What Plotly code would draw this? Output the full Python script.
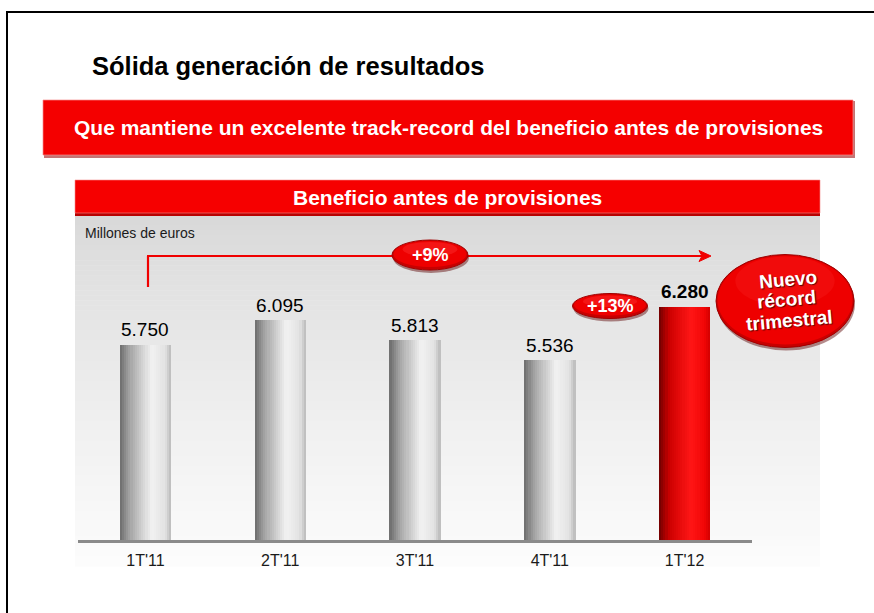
import plotly.graph_objects as go

# ---------------- data ----------------
categories = ["1T'11", "2T'11", "3T'11", "4T'11", "1T'12"]
values = [5750, 6095, 5813, 5536, 6280]
highlight = [False, False, False, False, True]

title_text = "Sólida generación de resultados"
banner_text = "Que mantiene un excelente track-record del beneficio antes de provisiones"
panel_title = "Beneficio antes de provisiones"
unit_text = "Millones de euros"
record_lines = ["Nuevo", "récord", "trimestral"]

# growth figures derived from the data
g_year = round((values[-1] / values[0] - 1) * 100)
g_quarter = round((values[-1] / values[-2] - 1) * 100)

FONT = "Liberation Sans, Arial, sans-serif"
W, H = 874, 613
L, R, T, B = 78, 122, 220, 73
PW, PH = W - L - R, H - T - B


def X(px):
    return (px - L) / PW


def Y(py):
    return (H - B - py) / PH


def fmt(v):
    return f"{v:,}".replace(",", ".")


def lerp_stops(stops, t):
    for (t0, c0), (t1, c1) in zip(stops, stops[1:]):
        if t0 <= t <= t1:
            f = (t - t0) / (t1 - t0) if t1 > t0 else 0
            return tuple(int(round(a + (b - a) * f)) for a, b in zip(c0, c1))
    return stops[-1][1]


grey_stops = [(0, (108, 108, 108)), (0.2, (165, 165, 165)), (0.62, (242, 242, 242)),
              (0.88, (226, 226, 226)), (1, (185, 185, 185))]
red_stops = [(0, (110, 0, 0)), (0.2, (205, 0, 0)), (0.62, (255, 22, 22)),
             (0.88, (242, 6, 6)), (1, (210, 0, 0))]

fig = go.Figure()

# cylinder-shaded bars made of overlaid vertical strips
bar_w = 0.38
N = 24
sw = bar_w / N
for i in range(N):
    t = (i + 0.5) / N
    g = lerp_stops(grey_stops, t)
    r = lerp_stops(red_stops, t)
    cols = [f"rgb{r}" if h else f"rgb{g}" for h in highlight]
    fig.add_trace(go.Bar(
        x=categories, y=values, width=sw * 1.08, offset=-bar_w / 2 + i * sw,
        marker=dict(color=cols, line=dict(width=0)),
        hoverinfo="skip", showlegend=False,
    ))

shapes = []
annotations = []

# outer frame
shapes.append(dict(type="rect", xref="paper", yref="paper", x0=X(7), x1=X(900), y0=Y(12), y1=Y(640),
                   line=dict(color="black", width=2), fillcolor="rgba(0,0,0,0)", layer="below"))

# red banner with shadow
shapes.append(dict(type="rect", xref="paper", yref="paper", x0=X(44), x1=X(855), y0=Y(101), y1=Y(158),
                   line=dict(width=0), fillcolor="rgba(150,0,0,0.55)", layer="below"))
shapes.append(dict(type="rect", xref="paper", yref="paper", x0=X(43), x1=X(853), y0=Y(100), y1=Y(155),
                   line=dict(color="rgba(245,140,140,0.7)", width=1), fillcolor="#f40000", layer="below"))

# grey gradient panel
top, bot = 215, 566
nb = 70
c0, c1 = 216, 252
for k in range(nb):
    y0 = top + (bot - top) * k / nb
    y1 = top + (bot - top) * (k + 1) / nb + 0.6
    f = k / (nb - 1)
    c = int(round(c0 + (c1 - c0) * f ** 0.8))
    shapes.append(dict(type="rect", xref="paper", yref="paper", x0=X(75), x1=X(820), y0=Y(y0), y1=Y(y1),
                       line=dict(width=0), fillcolor=f"rgb({c},{c},{c})", layer="below"))

# panel header
shapes.append(dict(type="rect", xref="paper", yref="paper", x0=X(75), x1=X(820), y0=Y(180), y1=Y(216),
                   line=dict(width=0), fillcolor="#b80000", layer="below"))
shapes.append(dict(type="rect", xref="paper", yref="paper", x0=X(75), x1=X(820), y0=Y(180), y1=Y(213),
                   line=dict(color="rgba(245,140,140,0.6)", width=1), fillcolor="#f60000", layer="below"))

# arrow (+9%)
red = "#f00000"
shapes.append(dict(type="line", xref="paper", yref="paper", x0=X(148), x1=X(148), y0=Y(287), y1=Y(256),
                   line=dict(color=red, width=2.2)))
shapes.append(dict(type="line", xref="paper", yref="paper", x0=X(147), x1=X(703), y0=Y(256), y1=Y(256),
                   line=dict(color=red, width=2.2)))
shapes.append(dict(type="path", xref="paper", yref="paper",
                   path=f"M {X(711)} {Y(256)} L {X(699)} {Y(250.5)} L {X(702)} {Y(256)} L {X(699)} {Y(261.5)} Z",
                   fillcolor=red, line=dict(color=red, width=1)))


def oval(cx, cy, w, h, hl=0.35):
    # shadow, body, highlight
    shapes.append(dict(type="circle", xref="paper", yref="paper",
                       x0=X(cx - w / 2 + 1), x1=X(cx + w / 2 + 1), y0=Y(cy - h / 2 + 3), y1=Y(cy + h / 2 + 3),
                       fillcolor="rgba(90,0,0,0.45)", line=dict(width=0)))
    shapes.append(dict(type="circle", xref="paper", yref="paper",
                       x0=X(cx - w / 2), x1=X(cx + w / 2), y0=Y(cy - h / 2), y1=Y(cy + h / 2),
                       fillcolor="#c80000", line=dict(color="#a00000", width=1)))
    shapes.append(dict(type="circle", xref="paper", yref="paper",
                       x0=X(cx - w / 2 + 1.5), x1=X(cx + w / 2 - 1.5), y0=Y(cy - h / 2 + 1), y1=Y(cy + h / 2 - 3),
                       fillcolor="#ee0000", line=dict(width=0)))
    shapes.append(dict(type="circle", xref="paper", yref="paper",
                       x0=X(cx - w * 0.36), x1=X(cx + w * 0.36), y0=Y(cy - h / 2 + 2), y1=Y(cy + h * 0.05),
                       fillcolor=f"rgba(255,60,60,{hl})", line=dict(width=0)))


oval(430, 255, 76, 30)
oval(610, 306, 75, 25)
oval(785, 301, 138, 93, hl=0.18)

# texts
annotations.append(dict(text=f"<b>{title_text}</b>", xref="paper", yref="paper", x=X(90), y=Y(66),
                        xanchor="left", yanchor="middle", showarrow=False,
                        font=dict(family=FONT, size=25.5, color="black")))
annotations.append(dict(text=f"<b>{banner_text}</b>", xref="paper", yref="paper", x=X(448), y=Y(128),
                        xanchor="center", yanchor="middle", showarrow=False,
                        font=dict(family=FONT, size=21, color="white")))
annotations.append(dict(text=f"<b>{panel_title}</b>", xref="paper", yref="paper", x=X(447), y=Y(198),
                        xanchor="center", yanchor="middle", showarrow=False,
                        font=dict(family=FONT, size=21, color="white")))
annotations.append(dict(text=unit_text, xref="paper", yref="paper", x=X(83), y=Y(233),
                        xanchor="left", yanchor="middle", showarrow=False,
                        font=dict(family=FONT, size=14, color="#1a1a1a")))

# value labels
for c, v, h in zip(categories, values, highlight):
    annotations.append(dict(text=f"<b>{fmt(v)}</b>" if h else fmt(v), x=c, y=v, xref="x", yref="y",
                            yanchor="middle", yshift=15, showarrow=False,
                            font=dict(family=FONT, size=19, color="black")))

annotations.append(dict(text=f"<b>+{g_year}%</b>", xref="paper", yref="paper", x=X(430), y=Y(255),
                        xanchor="center", yanchor="middle", showarrow=False,
                        font=dict(family=FONT, size=18, color="white")))
annotations.append(dict(text=f"<b>+{g_quarter}%</b>", xref="paper", yref="paper", x=X(610), y=Y(306),
                        xanchor="center", yanchor="middle", showarrow=False,
                        font=dict(family=FONT, size=18, color="white")))
for line, (lx, ly) in zip(record_lines, [(788, 279), (786, 299), (789, 320)]):
    annotations.append(dict(text=f"<b>{line}</b>", xref="paper", yref="paper", x=X(lx), y=Y(ly),
                            xanchor="center", yanchor="middle", showarrow=False, textangle=-5,
                            font=dict(family=FONT, size=19, color="white",
                                      shadow="1px 1px 1px #5a0000")))

fig.update_layout(
    width=W, height=H,
    margin=dict(l=L, r=R, t=T, b=B, pad=0),
    paper_bgcolor="white", plot_bgcolor="rgba(0,0,0,0)",
    barmode="overlay", bargap=0, showlegend=False,
    shapes=shapes, annotations=annotations,
    xaxis=dict(type="category", range=[-0.5, 4.5], showgrid=False, zeroline=False,
               showline=True, linecolor="#8a8a8a", linewidth=3, ticks="",
               tickfont=dict(family=FONT, size=16, color="#1a1a1a"), ticklabelstandoff=4,
               fixedrange=True),
    yaxis=dict(range=[3030, 7493], visible=False, showgrid=False, zeroline=False, fixedrange=True),
)

fig.write_html("out.html", config={"displayModeBar": False},
               post_script="document.body.style.margin='0';document.body.style.overflow='hidden';")
